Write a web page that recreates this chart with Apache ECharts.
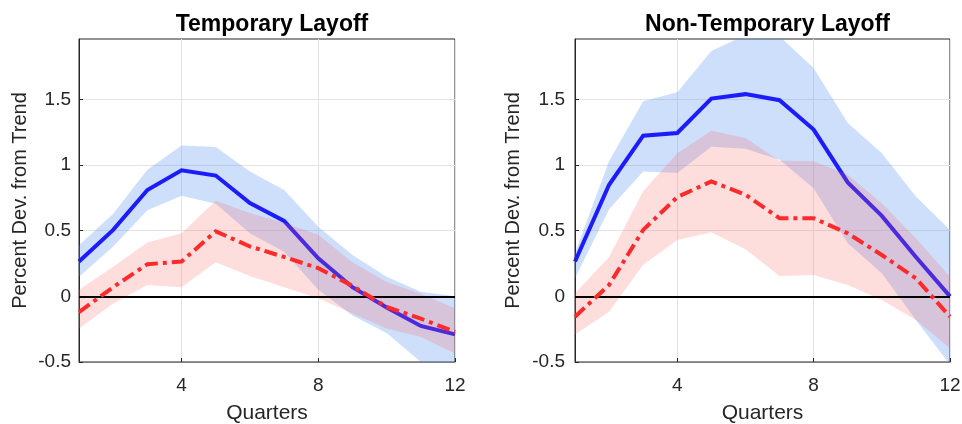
<!DOCTYPE html>
<html>
<head>
<meta charset="utf-8">
<script src="https://cdn.jsdelivr.net/npm/echarts@6/dist/echarts.min.js"></script>
<style>
  html, body { margin: 0; padding: 0; background: #fff; }
  #chart { width: 962px; height: 424px; }
</style>
</head>
<body>
<div id="chart"></div>
<script>
// Impulse responses by quarter, with confidence bands
var quarters = [1, 2, 3, 4, 5, 6, 7, 8, 9, 10, 11, 12];
var xTicks = [4, 8, 12];
var yTicks = [-0.5, 0, 0.5, 1, 1.5];
var panelTitles = ['Temporary Layoff', 'Non-Temporary Layoff'];

// Temporary layoff: solid (blue) response and band
var tempSolid   = [0.265, 0.506, 0.81, 0.96, 0.92, 0.71, 0.575, 0.29, 0.07, -0.085, -0.225, -0.29];
var tempSolidHi = [0.39, 0.63, 0.965, 1.148, 1.137, 0.95, 0.81, 0.53, 0.315, 0.15, 0.035, 0.0];
var tempSolidLo = [0.15, 0.38, 0.655, 0.766, 0.705, 0.48, 0.34, 0.05, -0.145, -0.28, -0.5, -0.6];
// Temporary layoff: dash-dot (red) response and band
var tempDash    = [-0.12, 0.07, 0.245, 0.265, 0.495, 0.38, 0.30, 0.215, 0.08, -0.08, -0.17, -0.27];
var tempDashHi  = [0.05, 0.225, 0.41, 0.48, 0.728, 0.634, 0.56, 0.47, 0.26, 0.11, 0.02, -0.09];
var tempDashLo  = [-0.245, -0.055, 0.087, 0.07, 0.26, 0.155, 0.07, -0.015, -0.13, -0.245, -0.31, -0.435];

// Non-temporary layoff: solid (blue) response and band
var nonSolid    = [0.265, 0.85, 1.224, 1.244, 1.506, 1.54, 1.494, 1.27, 0.868, 0.613, 0.30, 0.0];
var nonSolidHi  = [0.33, 1.03, 1.486, 1.555, 1.868, 1.99, 1.98, 1.74, 1.32, 1.09, 0.76, 0.506];
var nonSolidLo  = [0.137, 0.664, 0.95, 0.94, 1.14, 1.125, 1.04, 0.824, 0.405, 0.175, -0.18, -0.52];
// Non-temporary layoff: dash-dot (red) response and band
var nonDash     = [-0.155, 0.087, 0.506, 0.756, 0.875, 0.774, 0.595, 0.595, 0.48, 0.315, 0.137, -0.155];
var nonDashHi   = [0.023, 0.30, 0.80, 1.09, 1.262, 1.206, 1.033, 1.028, 0.926, 0.71, 0.443, 0.15];
var nonDashLo   = [-0.29, -0.117, 0.24, 0.43, 0.489, 0.359, 0.155, 0.163, 0.087, -0.028, -0.18, -0.397];

var FONT = 'Liberation Sans, Arial, Helvetica, sans-serif';
var BLUE = '#1c1cff';
var RED = '#ff2b2b';
var BLUE_BAND = 'rgba(80,140,245,0.28)';
var RED_BAND = 'rgba(250,100,100,0.22)';
var Y_MIN = -0.5, Y_MAX = 1.96;

function pairs(vals) {
  return quarters.map(function (q, i) { return [q, vals[i]]; });
}

// A shaded band drawn as one polygon: upper edge left to right, lower edge back
function band(idx, lo, hi, color, z) {
  var rows = quarters.map(function (q, i) { return [q, lo[i], hi[i]]; });
  return {
    type: 'custom', xAxisIndex: idx, yAxisIndex: idx, z: z, silent: true,
    data: rows,
    encode: { x: 0, y: [1, 2] },
    renderItem: function (params, api) {
      if (params.dataIndex !== 0) return;
      var pts = [];
      rows.forEach(function (r) { pts.push(api.coord([r[0], r[2]])); });
      for (var k = rows.length - 1; k >= 0; k--) pts.push(api.coord([rows[k][0], rows[k][1]]));
      var cs = params.coordSys;
      return {
        type: 'polygon',
        shape: { points: pts },
        style: { fill: color, stroke: null },
        clipPath: { type: 'rect', shape: { x: cs.x, y: cs.y, width: cs.width, height: cs.height } }
      };
    }
  };
}

function lineSeries(idx, vals, color, dashed, z) {
  return {
    type: 'line', xAxisIndex: idx, yAxisIndex: idx,
    data: pairs(vals), symbol: 'none', silent: true, z: z,
    lineStyle: dashed
      ? { color: color, width: 4, type: [13, 5, 4, 5], cap: 'butt', join: 'miter' }
      : { color: color, width: 4, join: 'miter' }
  };
}

function zeroLine(idx) {
  return {
    type: 'line', xAxisIndex: idx, yAxisIndex: idx, data: [],
    silent: true, z: 8,
    markLine: {
      silent: true, symbol: 'none', label: { show: false },
      lineStyle: { color: '#000', width: 2, type: 'solid' },
      data: [{ yAxis: 0 }]
    }
  };
}

var grids = [
  { left: 79, right: 507, top: 39, bottom: 62 },
  { left: 575, right: 12, top: 39, bottom: 62 }
];

var xAxes = [], yAxes = [];
[0, 1].forEach(function (i) {
  grids[i].show = true;
  grids[i].outerBoundsMode = 'none';
  grids[i].containLabel = false;
  grids[i].borderColor = '#262626';
  grids[i].borderWidth = 1;
  grids[i].backgroundColor = 'transparent';
  xAxes.push({
    type: 'value', gridIndex: i, min: 1, max: 12,
    name: 'Quarters', nameLocation: 'middle', nameGap: 41,
    nameTextStyle: { fontFamily: FONT, fontSize: 21, color: '#262626' },
    axisLine: { show: true, onZero: false, lineStyle: { color: '#808080', width: 1 } },
    axisTick: { show: true, inside: true, length: 4, customValues: xTicks, lineStyle: { color: '#262626' } },
    axisLabel: { customValues: xTicks, margin: 14, fontFamily: FONT, fontSize: 19, color: '#262626' },
    splitLine: { show: true, lineStyle: { color: '#e3e3e3', width: 1 } }
  });
  yAxes.push({
    type: 'value', gridIndex: i, min: Y_MIN, max: Y_MAX, interval: 0.5,
    name: 'Percent Dev. from Trend', nameLocation: 'middle', nameGap: i === 0 ? 49 : 52,
    nameRotate: 90,
    nameTextStyle: { fontFamily: FONT, fontSize: 20, color: '#262626' },
    axisLine: { show: true, onZero: false, lineStyle: { color: '#262626', width: 1 } },
    axisTick: { show: true, inside: true, length: 4, customValues: yTicks, lineStyle: { color: '#262626' } },
    axisLabel: {
      customValues: yTicks, margin: i === 0 ? 8 : 10,
      fontFamily: FONT, fontSize: 19, color: '#262626',
      formatter: function (v) { return String(v); }
    },
    splitLine: { show: true, lineStyle: { color: '#e3e3e3', width: 1 } }
  });
});

var series = [];
series.push(band(0, tempSolidLo, tempSolidHi, BLUE_BAND, 2));
series.push(lineSeries(0, tempSolid, BLUE, false, 3));
series.push(band(0, tempDashLo, tempDashHi, RED_BAND, 4));
series.push(zeroLine(0));
series.push(lineSeries(0, tempDash, RED, true, 9));

series.push(band(1, nonSolidLo, nonSolidHi, BLUE_BAND, 2));
series.push(lineSeries(1, nonSolid, BLUE, false, 3));
series.push(band(1, nonDashLo, nonDashHi, RED_BAND, 4));
series.push(zeroLine(1));
series.push(lineSeries(1, nonDash, RED, true, 9));

var titles = panelTitles.map(function (t, i) {
  var centerX = i === 0 ? (79 + (962 - 507)) / 2 : (575 + (962 - 12)) / 2;
  return {
    text: t, left: centerX, top: 8, textAlign: 'center',
    textStyle: { fontFamily: FONT, fontSize: 23, fontWeight: 'bold', color: '#000' }
  };
});

var chart = echarts.init(document.getElementById('chart'), null, { renderer: 'canvas' });
chart.setOption({
  animation: false,
  backgroundColor: '#fff',
  title: titles,
  grid: grids,
  xAxis: xAxes,
  yAxis: yAxes,
  series: series
});
</script>
</body>
</html>
